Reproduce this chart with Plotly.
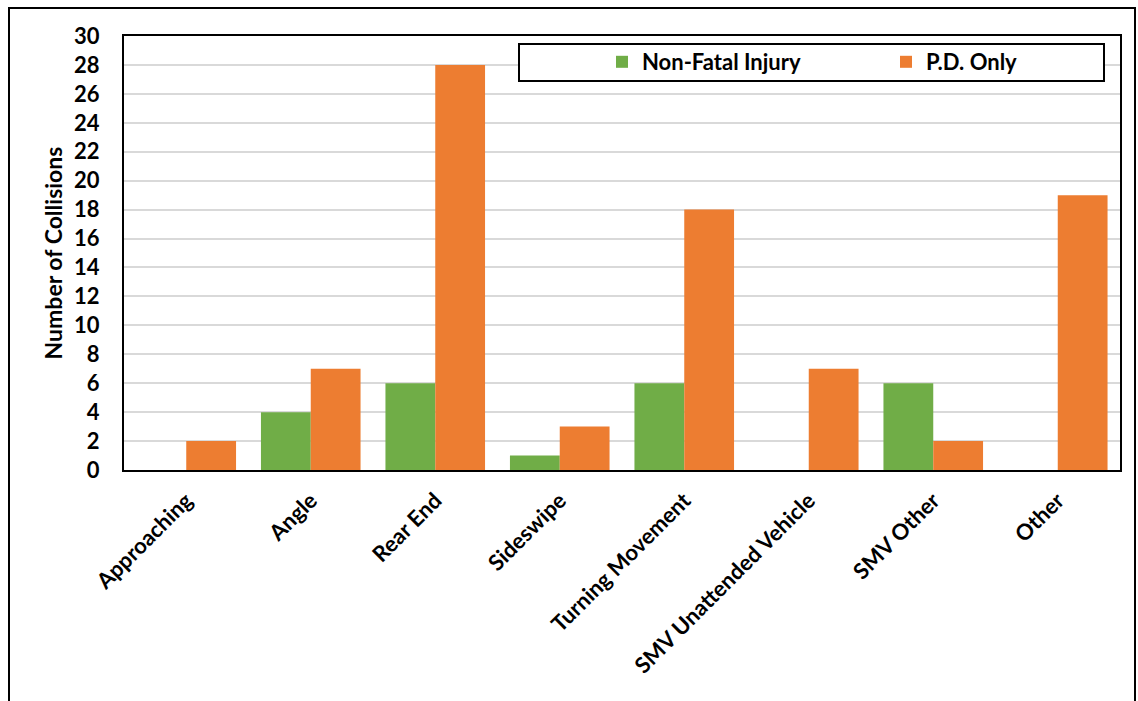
import plotly.graph_objects as go

categories = ["Approaching", "Angle", "Rear End", "Sideswipe", "Turning Movement",
              "SMV Unattended Vehicle", "SMV Other", "Other"]
non_fatal_injury = [0, 4, 6, 1, 6, 0, 6, 0]
pd_only = [2, 7, 28, 3, 18, 7, 2, 19]
y_ticks = list(range(0, 31, 2))

FONT = "Lato"
GREEN = "#70ad47"
ORANGE = "#ed7d31"

fig = go.Figure()
fig.add_trace(go.Bar(x=categories, y=non_fatal_injury, name="Non-Fatal Injury",
                     marker=dict(color=GREEN, line=dict(width=0))))
fig.add_trace(go.Bar(x=categories, y=pd_only, name="P.D. Only",
                     marker=dict(color=ORANGE, line=dict(width=0))))

L, R, T, B = 124, 18, 36, 231
W, H = 1138, 701
pw, ph = W - L - R, H - T - B


def px_x(x):
    return (x - L) / pw


def px_y(y):
    return (H - B - y) / ph


fig.update_layout(
    width=W, height=H,
    margin=dict(l=L, r=R, t=T, b=B, autoexpand=False),
    paper_bgcolor="white", plot_bgcolor="white",
    barmode="group", bargap=0.2, bargroupgap=0,
    font=dict(family=FONT, color="black", size=22),
    showlegend=True,
    legend=dict(
        orientation="h",
        x=px_x(602), xanchor="left",
        y=px_y(62), yanchor="middle",
        bgcolor="rgba(0,0,0,0)", borderwidth=0,
        entrywidth=239, entrywidthmode="pixels",
        font=dict(family=FONT, size=22, color="black", weight="bold"),
        traceorder="normal",
    ),
    shapes=[
        # legend frame
        dict(type="rect", xref="paper", yref="paper",
             x0=px_x(519), x1=px_x(1104), y0=px_y(81), y1=px_y(44),
             line=dict(color="black", width=2), fillcolor="white", layer="above"),
        # outer chart frame
        dict(type="rect", xref="paper", yref="paper",
             x0=px_x(9), x1=px_x(1135), y0=px_y(720), y1=px_y(8),
             line=dict(color="black", width=2), fillcolor="rgba(0,0,0,0)", layer="above"),
    ],
)

fig.update_xaxes(
    showline=True, linecolor="black", linewidth=2, mirror=True,
    showgrid=False, ticks="", tickangle=-45, ticklabelstandoff=7,
    tickfont=dict(family=FONT, size=22, color="black", weight="bold"),
)
fig.update_yaxes(
    range=[0, 30], tickvals=y_ticks,
    showline=True, linecolor="black", linewidth=2, mirror=True,
    showgrid=True, gridcolor="#d9d9d9", gridwidth=2,
    zeroline=False, ticks="", ticklabelstandoff=18,
    tickfont=dict(family=FONT, size=22, color="black", weight="bold"),
    title=dict(text="Number of Collisions", standoff=5,
               font=dict(family=FONT, size=23, color="black", weight="bold")),
)

fig.write_html("out.html")
